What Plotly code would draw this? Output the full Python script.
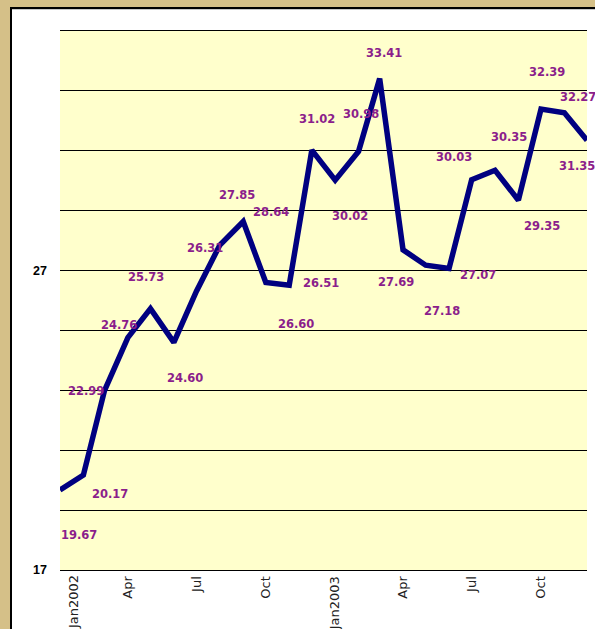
import plotly.graph_objects as go

# Monthly values, Jan 2002 - Dec 2003
months = [
    "2002-01-01", "2002-02-01", "2002-03-01", "2002-04-01", "2002-05-01", "2002-06-01",
    "2002-07-01", "2002-08-01", "2002-09-01", "2002-10-01", "2002-11-01", "2002-12-01",
    "2003-01-01", "2003-02-01", "2003-03-01", "2003-04-01", "2003-05-01", "2003-06-01",
    "2003-07-01", "2003-08-01", "2003-09-01", "2003-10-01", "2003-11-01", "2003-12-01",
]
values = [
    19.67, 20.17, 22.99, 24.76, 25.73, 24.60,
    26.31, 27.85, 28.64, 26.60, 26.51, 31.02,
    30.02, 30.98, 33.41, 27.69, 27.18, 27.07,
    30.03, 30.35, 29.35, 32.39, 32.27, 31.35,
]

# Axis ticks
x_tick_vals = ["2002-04-01", "2002-07-01", "2002-10-01", "2003-01-01",
               "2003-04-01", "2003-07-01", "2003-10-01"]
x_tick_text = ["Apr", "Jul", "Oct", "Jan2003", "Apr", "Jul", "Oct"]
first_tick_val = "2002-01-01"
first_tick_text = "Jan2002"
y_grid_vals = [17, 19, 21, 23, 25, 27, 29, 31, 33, 35]
y_labelled = [17, 27]

# Pixel offsets (dx right, dy down) for each value label relative to its point
label_offsets = [
    (19, 45), (27, 19), (-18, 0), (-9, -13), (-4, -32), (11, 36),
    (9, -43), (17, -50), (28, -9), (30, 41), (32, -2), (5, -31),
    (15, 36), (2, -37), (4, -26), (-7, 32), (16, 46), (29, 7),
    (-18, -23), (14, -33), (24, 26), (6, -37), (14, -16), (-10, 26),
]

W, H = 595, 629
L, R, T, B = 60, 8, 31, 59
PW, PH = W - L - R, H - T - B


def px_x(p):
    return (p - L) / PW


def px_y(p):
    return (H - B - p) / PH


fig = go.Figure()
fig.add_trace(go.Scatter(
    x=months, y=values, mode="lines",
    line=dict(color="#000080", width=5.5),
    hoverinfo="x+y", showlegend=False, cliponaxis=True,
))

annotations = []
for m, v, (dx, dy) in zip(months, values, label_offsets):
    annotations.append(dict(
        x=m, y=v, xref="x", yref="y", text=f"{v:.2f}", showarrow=False,
        xanchor="center", yanchor="middle", xshift=dx, yshift=-dy,
        font=dict(family="DejaVu Sans", size=11.5, color="#8B1E8B", weight="bold"),
    ))

# First month label sits slightly inside the axis start
annotations.append(dict(
    x=first_tick_val, y=0, xref="x", yref="paper", text=first_tick_text,
    showarrow=False, textangle=-90, xanchor="center", yanchor="top",
    xshift=13, yshift=-3,
    font=dict(family="DejaVu Sans", size=13, color="#222222"),
))

tan = "#D5C088"
shapes = [
    # frame around the page
    dict(type="rect", xref="paper", yref="paper", x0=px_x(-2), x1=px_x(10),
         y0=px_y(H + 2), y1=px_y(-2), fillcolor=tan, line=dict(width=0), layer="below"),
    dict(type="rect", xref="paper", yref="paper", x0=px_x(-2), x1=px_x(W + 2),
         y0=px_y(7), y1=px_y(-2), fillcolor=tan, line=dict(width=0), layer="below"),
    dict(type="line", xref="paper", yref="paper", x0=px_x(11), x1=px_x(11),
         y0=px_y(7), y1=px_y(H + 2), line=dict(color="#000000", width=2), layer="below"),
    dict(type="line", xref="paper", yref="paper", x0=px_x(10), x1=px_x(W + 2),
         y0=px_y(8), y1=px_y(8), line=dict(color="#000000", width=2), layer="below"),
    dict(type="line", xref="paper", yref="paper", x0=px_x(12), x1=px_x(W + 2),
         y0=px_y(9.5), y1=px_y(9.5), line=dict(color="#C8C8C8", width=1), layer="below"),
]

fig.update_layout(
    width=W, height=H,
    margin=dict(l=L, r=R, t=T, b=B, pad=0, autoexpand=False),
    paper_bgcolor="#FFFFFF",
    plot_bgcolor="#FFFFCC",
    annotations=annotations,
    shapes=shapes,
    showlegend=False,
)
fig.update_xaxes(
    type="date",
    range=[months[0], months[-1]],
    tickmode="array", tickvals=x_tick_vals, ticktext=x_tick_text,
    tickangle=-90, ticks="", showgrid=False, zeroline=False,
    showline=True, linecolor="#000000", linewidth=1, mirror=True,
    automargin=False,
    tickfont=dict(family="DejaVu Sans", size=13, color="#222222"),
)
fig.update_yaxes(
    range=[17, 35],
    tickmode="array", tickvals=y_grid_vals,
    ticktext=[str(v) if v in y_labelled else "" for v in y_grid_vals],
    ticks="", showgrid=True, gridcolor="#000000", gridwidth=1,
    zeroline=False, showline=False, ticklabelstandoff=12, automargin=False,
    tickfont=dict(family="Liberation Sans", size=12.5, color="#000000", weight="bold"),
)

fig.write_html("out.html")
